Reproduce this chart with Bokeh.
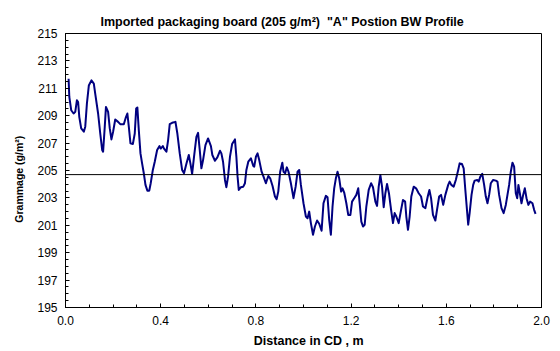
from bokeh.plotting import figure
from bokeh.models import Span, FixedTicker, Range1d, ColumnDataSource
from bokeh.embed import file_html
from bokeh.resources import INLINE

# Cross-direction basis weight profile
distance_m = [
    0.013, 0.016, 0.024, 0.034, 0.041, 0.048, 0.053, 0.058, 0.066, 0.077,
    0.083, 0.090, 0.098, 0.109, 0.119, 0.125, 0.137, 0.146, 0.154, 0.158,
    0.165, 0.170, 0.179, 0.186, 0.193, 0.200, 0.209, 0.221, 0.230, 0.245,
    0.254, 0.260, 0.266, 0.273, 0.283, 0.291, 0.297, 0.302, 0.308, 0.315,
    0.322, 0.329, 0.336, 0.344, 0.352, 0.358, 0.367, 0.375, 0.385, 0.395,
    0.400, 0.409, 0.414, 0.424, 0.431, 0.438, 0.448, 0.462, 0.470, 0.480,
    0.490, 0.498, 0.508, 0.518, 0.525, 0.532, 0.540, 0.550, 0.557, 0.564,
    0.571, 0.578, 0.588, 0.599, 0.611, 0.617, 0.628, 0.638, 0.649, 0.655,
    0.662, 0.670, 0.676, 0.683, 0.691, 0.700, 0.712, 0.718, 0.723, 0.728,
    0.737, 0.747, 0.754, 0.760, 0.768, 0.779, 0.789,
    0.793, 0.800, 0.807, 0.814, 0.824, 0.832, 0.842, 0.852, 0.860, 0.870,
    0.880, 0.887, 0.894, 0.902, 0.911, 0.916, 0.923, 0.930, 0.937, 0.947,
    0.958, 0.967, 0.975, 0.982, 0.989, 1.000, 1.010, 1.017, 1.024, 1.031,
    1.040, 1.048, 1.057, 1.066, 1.076, 1.084, 1.094, 1.101, 1.108, 1.115,
    1.122, 1.129, 1.136, 1.143, 1.150, 1.158, 1.164, 1.171, 1.180, 1.188,
    1.197, 1.204, 1.213, 1.222, 1.230, 1.236, 1.243, 1.250, 1.257, 1.264,
    1.274, 1.284, 1.292, 1.302, 1.309, 1.316, 1.323, 1.330, 1.337, 1.344,
    1.351, 1.359, 1.368, 1.376, 1.383, 1.390, 1.400, 1.410, 1.418, 1.427,
    1.432, 1.439, 1.446, 1.453, 1.463, 1.473, 1.484, 1.494, 1.502, 1.512,
    1.522, 1.529, 1.536, 1.544, 1.554, 1.561, 1.570, 1.578, 1.587, 1.596,
    1.608, 1.614, 1.621, 1.631, 1.640, 1.650, 1.656, 1.666, 1.673, 1.680,
    1.688, 1.692, 1.698, 1.706, 1.713, 1.719, 1.730, 1.736, 1.743, 1.751,
    1.759, 1.766, 1.773, 1.780, 1.787, 1.797, 1.808, 1.815, 1.822, 1.832,
    1.841, 1.850, 1.857, 1.864, 1.871, 1.878, 1.885, 1.892, 1.898, 1.903,
    1.909, 1.916, 1.923, 1.930, 1.937, 1.945, 1.952, 1.962, 1.969, 1.975,
]

grammage = [
    211.70, 210.37, 209.40, 209.16, 209.28, 210.13, 210.00, 208.90, 208.07, 207.83,
    208.20, 209.90, 211.20, 211.58, 211.34, 210.60, 209.16, 207.70, 206.50, 206.37,
    208.20, 209.64, 209.28, 208.07, 207.27, 207.83, 208.72, 208.55, 208.38, 208.38,
    208.90, 209.16, 208.20, 206.98, 206.93, 207.70, 209.52, 209.60, 207.95, 206.25,
    205.50, 204.80, 203.95, 203.53, 203.53, 204.07, 205.04, 205.64, 206.50, 206.78,
    206.60, 206.78, 206.60, 206.37, 207.20, 208.38, 208.48, 208.55, 207.70, 206.25,
    205.04, 204.80, 205.50, 206.13, 205.50, 204.75, 206.00, 207.46, 207.75, 206.50,
    205.16, 205.76, 206.85, 207.34, 206.78, 206.13, 205.71, 205.96, 206.44, 206.25,
    205.64, 204.31, 203.78, 204.55, 206.00, 206.93, 207.27, 206.00, 204.55, 203.58,
    203.78, 203.82, 204.07, 205.04, 205.64, 205.89, 205.33,
    205.28, 206.00, 206.25, 205.76, 204.91, 204.55, 204.07, 204.60, 204.43, 203.87,
    203.10, 202.90, 203.46, 204.91, 205.57, 204.91, 204.80, 205.23, 204.91, 204.07,
    202.98, 203.82, 204.91, 205.04, 203.95, 202.61, 201.64, 201.52, 202.00, 201.16,
    200.31, 200.91, 201.35, 201.11, 200.60, 202.61, 203.15, 203.05, 201.40, 200.31,
    202.37, 203.70, 204.43, 204.91, 204.43, 203.46, 203.70, 203.39, 202.61, 201.76,
    201.76, 202.73, 202.98, 203.22, 203.70, 202.61, 201.27, 200.91, 201.04, 202.37,
    203.58, 204.07, 203.78, 202.73, 202.42, 203.82, 204.67, 203.82, 202.32, 203.34,
    204.02, 203.34, 202.13, 201.16, 201.89, 201.64, 201.16, 202.13, 202.85, 202.73,
    201.64, 200.67, 201.64, 203.10, 203.82, 203.70, 203.34, 203.10, 202.37, 202.25,
    203.10, 203.58, 202.98, 201.76, 201.35, 202.13, 203.10, 203.22, 202.49, 203.22,
    203.95, 204.19, 203.95, 203.82, 204.31, 205.04, 205.52, 205.47, 205.16, 203.58,
    201.89, 201.04, 201.89, 203.22, 203.95, 204.26, 204.31, 204.19, 204.55, 204.75,
    203.95, 203.10, 202.61, 203.22, 204.07, 204.31, 204.26, 204.19, 203.22, 202.25,
    201.89, 202.49, 203.22, 203.95, 204.91, 205.57, 205.28, 203.34, 202.98, 203.95,
    203.34, 202.61, 203.22, 203.70, 202.98, 202.49, 202.73, 202.61, 202.13, 201.84,
]

average_grammage = 204.7

x_tick_values = [0.0, 0.4, 0.8, 1.2, 1.6, 2.0]
x_tick_labels = ["0.0", "0.4", "0.8", "1.2", "1.6", "2.0"]
x_minor_values = [round(i * 0.1, 1) for i in range(21)]
y_tick_values = [195, 197, 199, 201, 203, 205, 207, 209, 211, 213, 215]
y_minor_values = [195 + i * 0.5 for i in range(41)]

NBSP = "\u00a0"
title_text = "Imported packaging board (205 g/m\u00b2)" + NBSP * 2 + "\"A\" Postion BW Profile"
x_title = NBSP * 3 + "Distance in CD , m"
y_title = "Grammage (g/m\u00b2)" + NBSP * 6

FONT = "Liberation Sans"

p = figure(
    width=560, height=351,
    output_backend="svg", toolbar_location=None,
    x_range=Range1d(0, 2.0), y_range=Range1d(195, 215),
    min_border_left=65, min_border_right=19,
    min_border_top=33, min_border_bottom=44,
    background_fill_color="white", border_fill_color="white",
)

p.title.text = title_text
p.title.align = "left"
p.title.offset = 35
p.title.standoff = 9
p.title.text_font = FONT
p.title.text_font_size = "12.5px"
p.title.text_font_style = "bold"
p.title.text_color = "black"

p.grid.visible = False
p.outline_line_color = "black"
p.outline_line_width = 1

src = ColumnDataSource(data=dict(x=distance_m, y=grammage))
p.line("x", "y", source=src, line_color="#000080", line_width=2, line_join="round")

p.add_layout(Span(location=average_grammage, dimension="width",
                  line_color="black", line_width=1))

xa = p.xaxis[0]
xa.ticker = FixedTicker(ticks=x_tick_values, minor_ticks=x_minor_values)
xa.major_label_overrides = {v: s for v, s in zip(x_tick_values, x_tick_labels)}
xa.axis_label = x_title

ya = p.yaxis[0]
ya.ticker = FixedTicker(ticks=y_tick_values, minor_ticks=y_minor_values)
ya.axis_label = y_title

for ax in (xa, ya):
    ax.axis_line_color = "black"
    ax.axis_line_width = 1
    ax.major_tick_line_color = "black"
    ax.minor_tick_line_color = "black"
    ax.major_tick_in = 4
    ax.major_tick_out = 0
    ax.minor_tick_in = 3
    ax.minor_tick_out = 0
    ax.major_label_text_font = FONT
    ax.major_label_text_font_size = "12px"
    ax.major_label_text_color = "black"
    ax.major_label_standoff = 8
    ax.axis_label_text_font = FONT
    ax.axis_label_text_font_style = "bold"
    ax.axis_label_text_color = "black"

xa.axis_label_text_font_size = "12.5px"
xa.axis_label_standoff = 6
ya.axis_label_text_font_size = "10.5px"
ya.axis_label_standoff = 9

open("out.html", "w").write(file_html(p, INLINE))
